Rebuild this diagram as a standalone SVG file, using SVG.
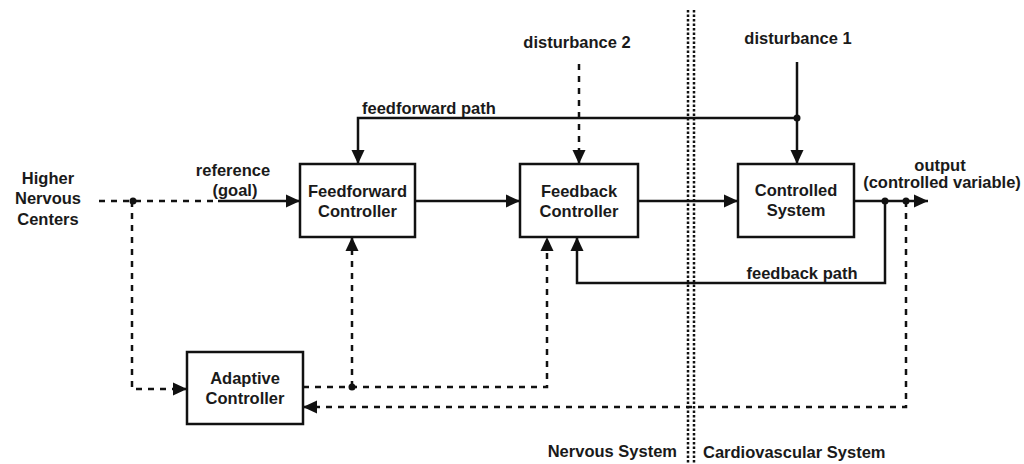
<svg xmlns="http://www.w3.org/2000/svg" width="1024" height="464" viewBox="0 0 1024 464">
<style>
text{font-family:"Liberation Sans",Arial,sans-serif;font-weight:bold;font-size:16.5px;fill:#1a1a1a;text-anchor:middle;dominant-baseline:central}
.box{fill:#fff;stroke:#111;stroke-width:2.5}
.ln{fill:none;stroke:#111;stroke-width:2.5}
.dash{fill:none;stroke:#111;stroke-width:2.5;stroke-dasharray:6 6}
.dot{fill:#111}
.sep{fill:none;stroke:#111;stroke-width:2.5;stroke-dasharray:2.5 2}
</style>
<defs>
<marker id="ah" markerUnits="userSpaceOnUse" markerWidth="15" markerHeight="15" viewBox="0 0 15 15" refX="14" refY="7.5" orient="auto">
<path d="M0,1 L14,7.5 L0,14 Z" fill="#111"/>
</marker>
</defs>
<rect width="1024" height="464" fill="#fff"/>
<g id="separator">
<line class="sep" x1="688" y1="10" x2="688" y2="464"/>
<line class="sep" x1="694" y1="10" x2="694" y2="464"/>
</g>
<g id="connectors">
<line class="dash" x1="99" y1="201" x2="218" y2="201"/>
<line class="ln" x1="218" y1="201" x2="300" y2="201" marker-end="url(#ah)"/>
<circle class="dot" cx="133" cy="201" r="3.5"/>
<polyline class="dash" points="132,201 132,389 187,389" marker-end="url(#ah)"/>
<line class="ln" x1="415" y1="201" x2="520" y2="201" marker-end="url(#ah)"/>
<line class="ln" x1="638" y1="201" x2="738" y2="201" marker-end="url(#ah)"/>
<line class="ln" x1="854" y1="201" x2="928" y2="201" marker-end="url(#ah)"/>
<circle class="dot" cx="885" cy="201" r="3.5"/>
<circle class="dot" cx="906" cy="201" r="3.5"/>
<polyline class="ln" points="885,201 885,283 577,283 577,237" marker-end="url(#ah)"/>
<polyline class="dash" points="906,201 906,407 303,407" marker-end="url(#ah)"/>
<polyline class="dash" points="303,387 547,387 547,237" marker-end="url(#ah)"/>
<circle class="dot" cx="352" cy="387" r="3.5"/>
<line class="dash" x1="352" y1="387" x2="352" y2="237" marker-end="url(#ah)"/>
<line class="ln" x1="797" y1="62" x2="797" y2="164" marker-end="url(#ah)"/>
<circle class="dot" cx="797" cy="118" r="3.5"/>
<polyline class="ln" points="797,118 358,118 358,164" marker-end="url(#ah)"/>
<line class="dash" x1="579" y1="64" x2="579" y2="164" marker-end="url(#ah)"/>
</g>
<g id="ff">
<rect class="box" x="300" y="164" width="115" height="73"/>
<text x="357.5" y="191">Feedforward</text>
<text x="357.5" y="211">Controller</text>
</g>
<g id="fb">
<rect class="box" x="520" y="164" width="118" height="73"/>
<text x="579" y="191">Feedback</text>
<text x="579" y="211">Controller</text>
</g>
<g id="cs">
<rect class="box" x="738" y="164" width="116" height="73"/>
<text x="796" y="190">Controlled</text>
<text x="796" y="210">System</text>
</g>
<g id="ac">
<rect class="box" x="187" y="352" width="116" height="72"/>
<text x="245" y="378">Adaptive</text>
<text x="245" y="398">Controller</text>
</g>
<g id="labels">
<text x="48" y="178" font-size="18">Higher</text>
<text x="48" y="198" font-size="18">Nervous</text>
<text x="48" y="219" font-size="18">Centers</text>
<text x="233" y="170">reference</text>
<text x="235" y="190">(goal)</text>
<text x="577" y="42">disturbance 2</text>
<text x="798" y="38">disturbance 1</text>
<text x="362" y="108" style="text-anchor:start">feedforward path</text>
<text x="802" y="273">feedback path</text>
<text x="940" y="165">output</text>
<text x="942" y="182">(controlled variable)</text>
<text x="677" y="451" style="text-anchor:end">Nervous System</text>
<text x="703" y="452" style="text-anchor:start">Cardiovascular System</text>
</g>
</svg>
